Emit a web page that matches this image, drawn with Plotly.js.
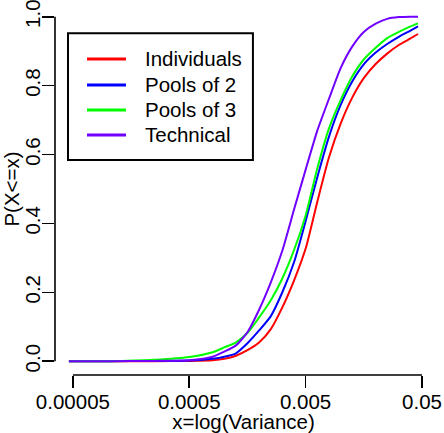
<!DOCTYPE html>
<html>
<head>
<meta charset="utf-8">
<script src="https://cdn.plot.ly/plotly-3.0.1.min.js"></script>
<style>
  html, body { margin: 0; padding: 0; background: #ffffff; }
  #chart { width: 444px; height: 433px; }
</style>
</head>
<body>
<div id="chart"></div>
<script>
// Variance values (x, log scale)
const variance = [4.62e-5, 1.0e-4, 2.51e-4, 5.01e-4, 7.94e-4, 1.0e-3, 1.26e-3, 1.58e-3,
  2.0e-3, 2.51e-3, 3.16e-3, 3.98e-3, 5.01e-3, 6.31e-3, 7.94e-3, 1.0e-2, 1.26e-2,
  1.58e-2, 2.0e-2, 2.51e-2, 3.16e-2, 3.98e-2, 4.62e-2];

// Cumulative probabilities P(X<=x)
const individuals = [0, 0, 0, 0.001, 0.003, 0.007, 0.016, 0.032, 0.055, 0.093, 0.157,
  0.235, 0.328, 0.464, 0.592, 0.690, 0.766, 0.822, 0.863, 0.893, 0.918, 0.937, 0.950];
const poolsOf2 = [0, 0, 0.001, 0.002, 0.007, 0.013, 0.023, 0.052, 0.090, 0.131, 0.201,
  0.288, 0.408, 0.535, 0.652, 0.744, 0.813, 0.862, 0.896, 0.921, 0.942, 0.960, 0.972];
const poolsOf3 = [0, 0, 0.004, 0.012, 0.026, 0.040, 0.055, 0.082, 0.128, 0.177, 0.241,
  0.323, 0.424, 0.561, 0.676, 0.758, 0.827, 0.876, 0.910, 0.938, 0.956, 0.972, 0.981];
const technical = [0, 0, 0.001, 0.003, 0.013, 0.028, 0.046, 0.084, 0.151, 0.229, 0.322,
  0.441, 0.557, 0.670, 0.762, 0.851, 0.914, 0.956, 0.980, 0.994, 0.999, 1.0, 1.0];

const seriesNames = ["Individuals", "Pools of 2", "Pools of 3", "Technical"];
const seriesColors = ["#ff0000", "#0000ff", "#00ff00", "#7000ff"];
const seriesValues = [individuals, poolsOf2, poolsOf3, technical];

const xTickVals = [0.00005, 0.0005, 0.005, 0.05];
const xTickText = ["0.00005", "0.0005", "0.005", "0.05"];
const yTickVals = [0, 0.2, 0.4, 0.6, 0.8, 1.0];
const yTickText = ["0.0", "0.2", "0.4", "0.6", "0.8", "1.0"];

const FONT = "Liberation Sans, Arial, Helvetica, sans-serif";
const FS = 20.5;
const xRange = [-4.455, -1.215];
const yRange = [-0.04, 1.04];

const traces = seriesNames.map((name, i) => ({
  type: "scatter",
  mode: "lines",
  name: name,
  x: variance,
  y: seriesValues[i],
  line: { color: seriesColors[i], width: 2, shape: "spline", smoothing: 0.6 },
  hoverinfo: "skip",
  showlegend: false
}));

function xPaper(v) {
  return (Math.log10(v) - xRange[0]) / (xRange[1] - xRange[0]);
}

const shapes = [
  // x axis line, from first to last tick (R style)
  { type: "line", xref: "paper", yref: "paper",
    x0: xPaper(xTickVals[0]), x1: xPaper(xTickVals[xTickVals.length - 1]), y0: 0, y1: 0,
    line: { color: "#000", width: 1.6 } },
  // y axis line
  { type: "line", xref: "paper", yref: "y",
    x0: 0, x1: 0, y0: yTickVals[0], y1: yTickVals[yTickVals.length - 1],
    line: { color: "#000", width: 1.6 } },
  // legend box
  { type: "rect", xref: "paper", yref: "paper",
    x0: 0.0345, x1: 0.525, y0: 0.578, y1: 0.919,
    fillcolor: "#ffffff", line: { color: "#000", width: 2 }, layer: "above" }
];

const annotations = [];
const legendRows = [0.8495, 0.7796, 0.7124, 0.6452];
seriesNames.forEach((name, i) => {
  shapes.push({ type: "line", xref: "paper", yref: "paper",
    x0: 0.0849, x1: 0.1883, y0: legendRows[i], y1: legendRows[i],
    line: { color: seriesColors[i], width: 2.8 }, layer: "above" });
  annotations.push({ xref: "paper", yref: "paper", x: 0.2334, y: legendRows[i],
    xanchor: "left", yanchor: "middle", text: name, showarrow: false,
    font: { family: FONT, size: FS, color: "#000" } });
});

const layout = {
  width: 444,
  height: 433,
  margin: { l: 55, r: 12, t: 3, b: 58, pad: 0 },
  paper_bgcolor: "#ffffff",
  plot_bgcolor: "#ffffff",
  font: { family: FONT, size: FS, color: "#000" },
  showlegend: false,
  xaxis: {
    type: "log",
    range: xRange,
    tickmode: "array",
    tickvals: xTickVals,
    ticktext: xTickText,
    ticks: "outside",
    ticklen: 12,
    tickwidth: 1.6,
    tickcolor: "#000",
    ticklabelstandoff: -4,
    ticklabeloverflow: "allow",
    showgrid: false,
    zeroline: false,
    showline: false,
    tickfont: { family: FONT, size: FS, color: "#000" },
    title: { text: "x=log(Variance)", font: { family: FONT, size: FS, color: "#000" }, standoff: 0 }
  },
  yaxis: {
    range: yRange,
    tickmode: "array",
    tickvals: yTickVals,
    ticktext: yTickText,
    ticks: "outside",
    ticklen: 12,
    tickwidth: 1.6,
    tickcolor: "#000",
    tickangle: -90,
    ticklabelstandoff: -6,
    ticklabeloverflow: "allow",
    showgrid: false,
    zeroline: false,
    showline: false,
    tickfont: { family: FONT, size: FS, color: "#000" },
    title: { text: "P(X<=x)", font: { family: FONT, size: FS, color: "#000" }, standoff: 0 }
  },
  shapes: shapes,
  annotations: annotations
};

Plotly.newPlot("chart", traces, layout, { staticPlot: true, displayModeBar: false });
</script>
</body>
</html>
